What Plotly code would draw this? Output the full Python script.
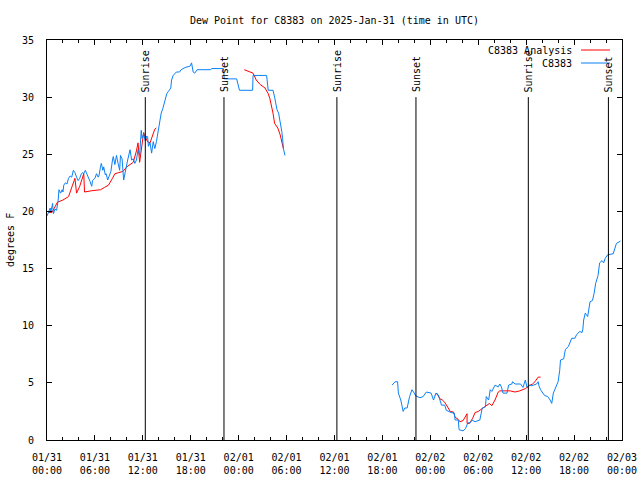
import pandas as pd
import plotly.graph_objects as go

BASE = pd.Timestamp("2025-01-31 00:00")
FONT = "DejaVu Sans Mono"

# C8383 observations: (hours since 01/31 00:00 UTC, dew point F), segments separated by gaps
obs_seg1_h = [0.0, 0.2, 0.4, 0.5, 0.7, 0.8, 1.0, 1.2, 1.4, 1.5, 1.7, 1.9, 2.0, 2.1, 2.3, 2.5, 2.7, 2.9, 3.1, 3.3,
              3.5, 3.7, 3.9, 4.1, 4.3, 4.5, 4.6, 4.8, 5.0, 5.2, 5.4, 5.6, 5.7, 6.0, 6.2, 6.4, 6.5, 6.7, 6.8, 7.0,
              7.1, 7.3, 7.4, 7.6, 7.8, 8.0, 8.2, 8.3, 8.5, 8.7, 8.9, 9.1, 9.2, 9.4, 9.6, 9.8, 10.1, 10.4, 10.6, 10.8,
              11.0, 11.2, 11.4, 11.6, 11.8, 11.9, 12.1, 12.3, 12.5, 12.6, 12.7, 12.9, 13.1, 13.3, 13.5, 13.7, 13.9,
              14.1, 14.3, 14.5, 14.8, 15.0, 15.2, 15.5, 15.6, 15.8, 16.2, 16.6, 16.8, 17.1, 17.3, 17.9, 18.1, 18.3,
              18.5, 18.8, 20.5, 20.6, 22.1, 22.2, 23.75, 24.1, 25.75, 25.8, 27.5, 27.7, 28.3, 28.5, 28.8, 29.0, 29.2,
              29.4, 29.5, 29.6, 29.8]
obs_seg1_v = [19.6, 19.9, 20.3, 20.0, 20.7, 19.8, 20.2, 20.1, 21.0, 21.9, 21.6, 21.9, 21.7, 22.3, 22.5, 22.4, 22.9,
              23.1, 23.0, 23.6, 23.4, 23.0, 22.7, 22.9, 23.3, 23.4, 23.3, 23.6, 23.3, 23.0, 22.6, 22.2, 22.7, 22.9,
              23.3, 23.0, 23.1, 23.9, 24.2, 23.6, 23.9, 23.2, 23.3, 22.75, 23.2, 23.5, 24.5, 24.8, 24.1, 24.9, 24.2,
              23.6, 24.9, 24.6, 22.75, 23.6, 24.5, 25.4, 24.5, 24.6, 24.2, 24.5, 25.4, 24.9, 27.1, 26.4, 26.8, 26.2,
              26.6, 26.5, 25.7, 26.0, 25.1, 26.1, 25.5, 26.1, 27.0, 27.9, 28.6, 29.0, 29.9, 30.3, 30.5, 30.8, 31.5,
              31.9, 32.2, 32.2, 32.4, 32.5, 32.6, 32.7, 33.0, 32.2, 32.1, 32.4, 32.4, 32.5, 32.5, 31.6, 31.6, 30.6,
              30.6, 31.9, 31.9, 30.6, 30.6, 30.0, 28.9, 28.6, 27.9, 27.0, 26.4, 25.5, 24.9]

obs_seg2_h = [43.2, 43.6, 43.9, 44.0, 44.3, 44.6, 44.8, 45.1, 45.4, 45.7, 45.9, 46.2, 46.7, 47.1, 47.5, 48.1, 48.4,
              48.7, 49.0, 49.3, 49.4, 49.8, 50.0, 50.6, 51.0, 51.1, 51.5, 51.6, 52.1, 52.4, 52.7, 53.0, 53.2, 53.6,
              54.2, 54.5, 54.9, 55.0, 55.3, 55.5, 55.7, 56.1, 56.5, 56.7, 56.9, 57.1, 57.6, 57.8, 58.2, 58.3, 58.6,
              59.3, 59.6, 59.9, 60.1, 60.4, 60.7, 61.3, 61.5, 61.6, 61.8, 62.3, 62.7, 63.0, 63.2, 63.4, 63.6, 64.0,
              64.2, 64.3, 64.7, 64.9, 65.3, 65.7, 66.1, 66.3, 66.7, 67.0, 67.1, 67.2, 67.4, 67.7, 68.0, 68.3, 68.5,
              68.7, 69.0, 69.2, 69.5, 69.7, 69.9, 70.2, 70.9, 71.1, 71.3, 71.8]
obs_seg2_v = [4.8, 5.1, 5.1, 4.1, 3.5, 2.5, 2.8, 2.8, 3.8, 4.4, 4.2, 3.85, 3.7, 3.8, 4.2, 4.1, 3.5, 4.1, 3.95, 3.35,
              3.05, 3.05, 2.6, 2.4, 2.35, 1.75, 1.75, 0.9, 0.8, 1.0, 1.5, 1.5, 1.75, 1.6, 1.75, 2.8, 2.9, 3.8, 3.5,
              4.4, 4.25, 4.8, 4.65, 4.9, 4.65, 4.1, 4.1, 4.8, 4.9, 5.1, 4.9, 4.9, 4.6, 5.25, 4.6, 4.8, 4.75, 4.9,
              5.1, 4.75, 4.4, 3.9, 3.8, 3.5, 3.2, 4.1, 4.5, 5.1, 6.1, 7.0, 7.1, 7.9, 8.2, 8.9, 8.9, 9.2, 9.5, 9.4,
              9.7, 10.5, 11.1, 10.8, 12.1, 12.2, 12.8, 13.7, 14.4, 15.5, 15.7, 15.5, 15.9, 16.2, 16.3, 16.8, 17.2,
              17.4]

# C8383 Analysis
ana_seg1_h = [0.2, 0.6, 1.0, 1.3, 2.0, 2.7, 3.2, 3.5, 3.7, 4.1, 4.6, 4.7, 5.5, 6.7, 7.2, 7.7, 8.2, 8.5, 9.0, 9.5,
              10.0, 10.8, 11.2, 11.4, 11.6, 11.8, 12.1, 12.3, 12.6, 12.9, 13.2, 13.5, 13.7]
ana_seg1_v = [19.9, 19.9, 20.4, 20.8, 21.0, 21.3, 22.3, 22.9, 21.6, 22.2, 23.3, 21.7, 21.8, 21.9, 22.1, 22.3, 22.9,
              23.3, 23.4, 23.5, 23.9, 24.3, 25.3, 26.0, 24.3, 25.5, 26.9, 26.5, 26.1, 26.0, 26.6, 27.2, 27.3]
ana_seg2_h = [24.7, 25.5, 25.8, 26.2, 26.7, 27.3, 27.7, 27.9, 28.1, 28.3, 28.5, 28.9, 29.2, 29.4, 29.6]
ana_seg2_v = [32.4, 32.2, 32.1, 31.5, 31.1, 30.8, 30.3, 29.9, 29.3, 28.6, 27.7, 27.3, 26.7, 26.0, 25.5]
ana_seg3_h = [48.6, 48.8, 49.2, 49.5, 49.8, 50.2, 50.5, 50.9, 51.1, 51.5, 51.7, 52.1, 52.6, 52.6, 52.9, 53.3, 53.6,
              54.0, 54.4, 54.8, 55.1, 55.4, 55.7, 56.1, 56.5, 56.7, 58.0, 58.6, 59.2, 59.9, 60.5, 60.8, 61.1, 61.5,
              61.8]
ana_seg3_v = [3.9, 4.1, 3.6, 3.5, 3.3, 2.9, 2.5, 2.45, 2.0, 1.8, 1.6, 1.7, 2.3, 1.45, 1.45, 1.9, 2.4, 2.5, 2.7, 2.9,
              3.1, 3.2, 3.0, 3.5, 4.2, 4.3, 4.3, 4.2, 4.3, 4.5, 4.8, 4.9, 5.1, 5.5, 5.5]

# sun events (hours since start)
sun_labels = ["Sunrise", "Sunset", "Sunrise", "Sunset", "Sunrise", "Sunset"]
sun_hours = [12.31, 22.16, 36.3, 46.2, 60.27, 70.3]
sun_label_level = 30

# x tick labels
tick_hours = list(range(0, 73, 6))
tick_text = ["01/31<br>00:00", "01/31<br>06:00", "01/31<br>12:00", "01/31<br>18:00",
             "02/01<br>00:00", "02/01<br>06:00", "02/01<br>12:00", "02/01<br>18:00",
             "02/02<br>00:00", "02/02<br>06:00", "02/02<br>12:00", "02/02<br>18:00",
             "02/03<br>00:00"]

RED = "#ff0000"
BLUE = "#0a80f5"


def to_t(hours):
    return [BASE + pd.Timedelta(hours=h) for h in hours]


def join(segs):
    xs, ys = [], []
    for i, (h, v) in enumerate(segs):
        if i:
            xs.append(None)
            ys.append(None)
        xs += to_t(h)
        ys += v
    return xs, ys


fig = go.Figure()
ax, ay = join([(ana_seg1_h, ana_seg1_v), (ana_seg2_h, ana_seg2_v), (ana_seg3_h, ana_seg3_v)])
ox, oy = join([(obs_seg1_h, obs_seg1_v), (obs_seg2_h, obs_seg2_v)])
fig.add_trace(go.Scatter(x=ax, y=ay, mode="lines", line=dict(color=RED, width=1),
                         name="C8383 Analysis", connectgaps=False))
fig.add_trace(go.Scatter(x=ox, y=oy, mode="lines", line=dict(color=BLUE, width=1),
                         name="C8383", connectgaps=False))

for lab, h in zip(sun_labels, sun_hours):
    t = BASE + pd.Timedelta(hours=h)
    fig.add_shape(type="line", xref="x", yref="y", x0=t, x1=t, y0=0, y1=sun_label_level,
                  line=dict(color="black", width=1))
    fig.add_annotation(x=t, y=sun_label_level, xref="x", yref="y", text=lab, textangle=-90,
                       showarrow=False, xanchor="center", yanchor="bottom", yshift=3,
                       font=dict(family=FONT, size=10, color="black"))

# gnuplot-style legend (text left, sample right)
legend_items = [("C8383 Analysis", RED), ("C8383", BLUE)]
for i, (name, col) in enumerate(legend_items):
    yp = 0.975 - i * 0.0325
    fig.add_annotation(x=0.9165, y=yp, xref="paper", yref="paper", text=name, showarrow=False,
                       xanchor="right", yanchor="middle", font=dict(family=FONT, size=10, color="black"))
    fig.add_shape(type="line", xref="paper", yref="paper", x0=0.9287, x1=0.9791, y0=yp, y1=yp,
                  line=dict(color=col, width=1))

fig.add_annotation(x=-0.0643, y=0.5, xref="paper", yref="paper", text="degrees F", textangle=-90,
                   showarrow=False, xanchor="center", yanchor="middle",
                   font=dict(family=FONT, size=10, color="black"))

fig.update_layout(
    width=640, height=480,
    margin=dict(l=47, r=18, t=40, b=40, autoexpand=False),
    paper_bgcolor="white", plot_bgcolor="white",
    showlegend=False,
    title=dict(text="Dew Point for C8383 on 2025-Jan-31 (time in UTC)", x=0.5, xref="paper",
               y=1 - 20 / 480, yref="container", xanchor="center", yanchor="middle",
               automargin=False,
               font=dict(family=FONT, size=10, color="black")),
    font=dict(family=FONT, size=10, color="black"),
)
fig.update_xaxes(
    type="date", automargin=False,
    range=[BASE, BASE + pd.Timedelta(hours=72)],
    tickmode="array", tickvals=to_t(tick_hours), ticktext=tick_text,
    ticks="inside", ticklen=5, tickcolor="black", tickwidth=1,
    minor=dict(ticks="inside", ticklen=3, dtick=2 * 3600 * 1000, tick0=BASE, tickcolor="black"),
    showline=True, linecolor="black", linewidth=1, mirror="ticks",
    showgrid=False, zeroline=False, ticklabelstandoff=8,
    tickfont=dict(family=FONT, size=10, color="black"),
)
fig.update_yaxes(
    automargin=False,
    range=[0, 35], dtick=5, tick0=0,
    ticks="inside", ticklen=5, tickcolor="black", tickwidth=1,
    showline=True, linecolor="black", linewidth=1, mirror="ticks",
    showgrid=False, zeroline=False, ticklabelstandoff=10,
    tickfont=dict(family=FONT, size=10, color="black"),
)

fig.write_html("out.html", config={"displayModeBar": False},
               post_script="document.body.style.margin='0px';document.body.style.padding='0px';")
